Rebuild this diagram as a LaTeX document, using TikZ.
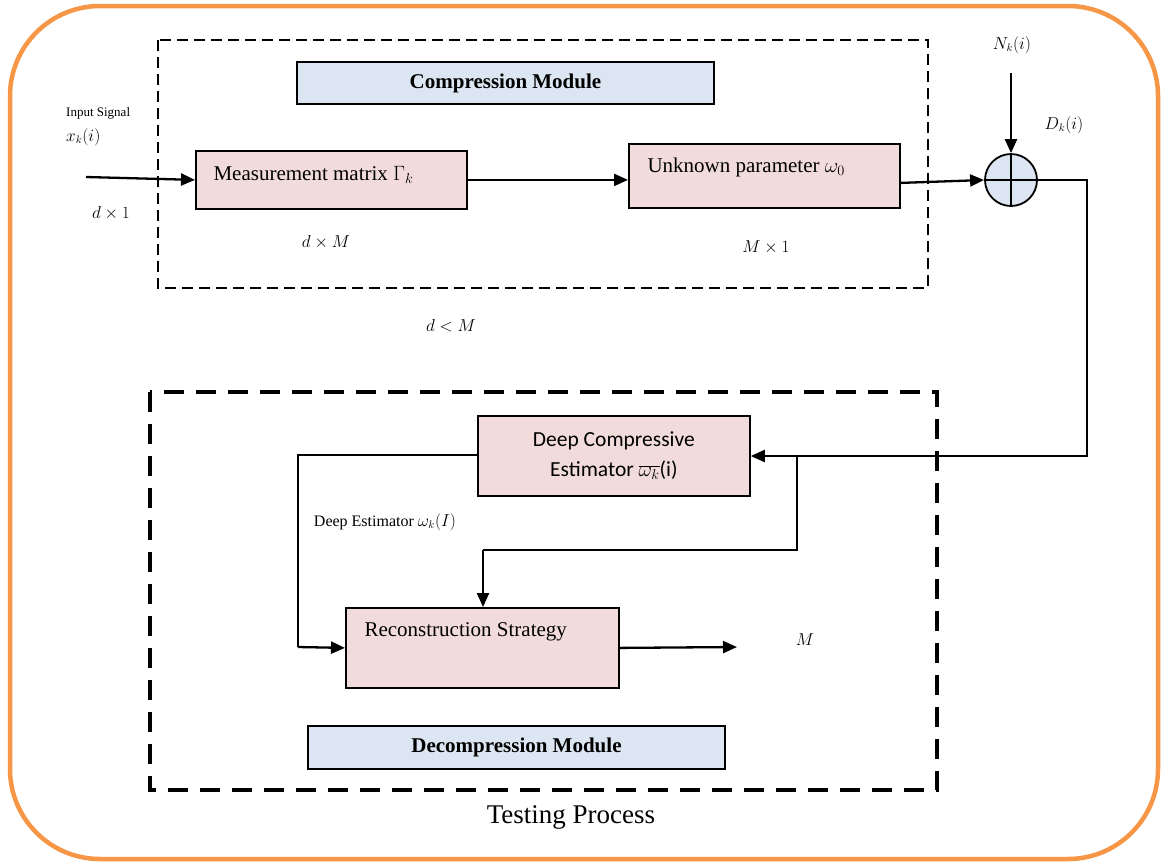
\documentclass[tikz,border=0pt]{standalone}
\usepackage{fontspec}
\setmainfont{Liberation Serif}
\newfontfamily\calfont{Carlito}
\usetikzlibrary{arrows.meta}
\definecolor{orng}{HTML}{F79646}
\definecolor{pinkfill}{HTML}{F2DCDB}
\definecolor{bluefill}{HTML}{DCE6F2}
\tikzset{
  blk/.style={draw=black, line width=1.8pt, fill=pinkfill},
  title/.style={draw=black, line width=1.8pt, fill=bluefill, font=\fontsize{21}{24}\selectfont\bfseries},
  arr/.style={line width=2.3pt, -{Triangle[length=14pt,width=12pt]}},
  ln/.style={line width=2.3pt},
  lbl/.style={font=\fontsize{16}{19}\selectfont},
  btxt/.style={font=\fontsize{21}{24}\selectfont, anchor=west},
}
\begin{document}
\begin{tikzpicture}[x=1pt,y=-1pt]
\useasboundingbox (0,0) rectangle (1161,863);
% outer frame
\draw[orng, line width=4.5pt, rounded corners=90pt] (10,6) rectangle (1158,859);
% compression dashed box
\draw[line width=1.6pt, dash pattern=on 11pt off 6pt] (158,40) rectangle (928,288);
% decompression dashed box
\draw[line width=4.5pt, dash pattern=on 20pt off 12pt] (150,392) rectangle (937,790);
% title boxes
\node[title, minimum width=417pt, minimum height=42pt] (ctitle) at (505.5,83) {Compression Module};
\node[title, minimum width=417pt, minimum height=43pt] (dtitle) at (516.5,747.5) {Decompression Module};
% blocks
\node[blk, minimum width=271pt, minimum height=58pt, anchor=north west] (meas) at (195,150) {};
\node[btxt] (meastxt) at (210,175) {Measurement matrix $\Gamma_k$};
\node[blk, minimum width=271pt, minimum height=64pt, anchor=north west] (unk) at (628,143) {};
\node[btxt] (unktxt) at (644,167) {Unknown parameter $\omega_0$};
\node[circle, draw=black, line width=1.8pt, fill=bluefill, minimum size=52pt, inner sep=0pt] (sum) at (1011,180) {};
\draw[line width=1.8pt] (sum.north) -- (sum.south) (sum.west) -- (sum.east);
\node[blk, minimum width=272pt, minimum height=80pt, anchor=north west, align=center, font=\calfont\fontsize{21.5}{30}\selectfont] (deep) at (477,415) {Deep Compressive\\Estimator $\overline{\omega_k}$(i)};
\node[blk, minimum width=273pt, minimum height=80pt, anchor=north west] (rec) at (345,607) {};
\node[btxt] (rectxt) at (361,632) {Reconstruction Strategy};
% labels
\node[font=\fontsize{13}{16}\selectfont, anchor=north west, inner sep=0pt] (inp) at (66,107) {Input Signal};
\node[lbl, anchor=north west, inner sep=0pt] (xk) at (66,128) {$x_k(i)$};
\node[lbl] (d1) at (111,213) {$d\times 1$};
\node[lbl] (dM) at (326,242) {$d\times M$};
\node[lbl] (M1) at (766,247) {$M\times 1$};
\node[lbl] (dlM) at (451,326) {$d<M$};
\node[lbl] (Nk) at (1012,45) {$N_k(i)$};
\node[lbl] (Dk) at (1064,125) {$D_k(i)$};
\node[lbl] (dest) at (385,522) {Deep Estimator $\omega_k(I)$};
\node[lbl] (Mout) at (805,640) {$M$};
\node[font=\fontsize{27}{30}\selectfont] (tp) at (571,817) {Testing Process};
% coordinates
\coordinate (inS) at (86,177);
\coordinate (nTop) at (1011,73);
\coordinate (c1) at (1087,180);
\coordinate (c2) at (1087,456);
\coordinate (c3) at (797,456);
\coordinate (c4) at (797,550);
\coordinate (c5) at (483,550);
\coordinate (c6) at (298,455);
\coordinate (c7) at (298,647);
\coordinate (outE) at (737,647);
% connectors
\draw[arr] (inS) -- (meas.west);
\draw[arr] (meas.east) -- ([yshift=-4pt]unk.west);
\draw[arr] ([yshift=-7pt]unk.east) -- (sum.west);
\draw[arr] (nTop) -- (sum.north);
\draw[arr] (sum.east) -- (c1) -- (c2) -- (deep.east |- c2);
\draw[ln] (c3) -- (c4) -- (c5);
\draw[arr] (c5) -- (c5 |- rec.north);
\draw[ln] (deep.west |- c6) -- (c6) -- (c7);
\draw[arr] (c7) -- (rec.west);
\draw[arr] (rec.east) -- (outE);
\end{tikzpicture}
\end{document}
